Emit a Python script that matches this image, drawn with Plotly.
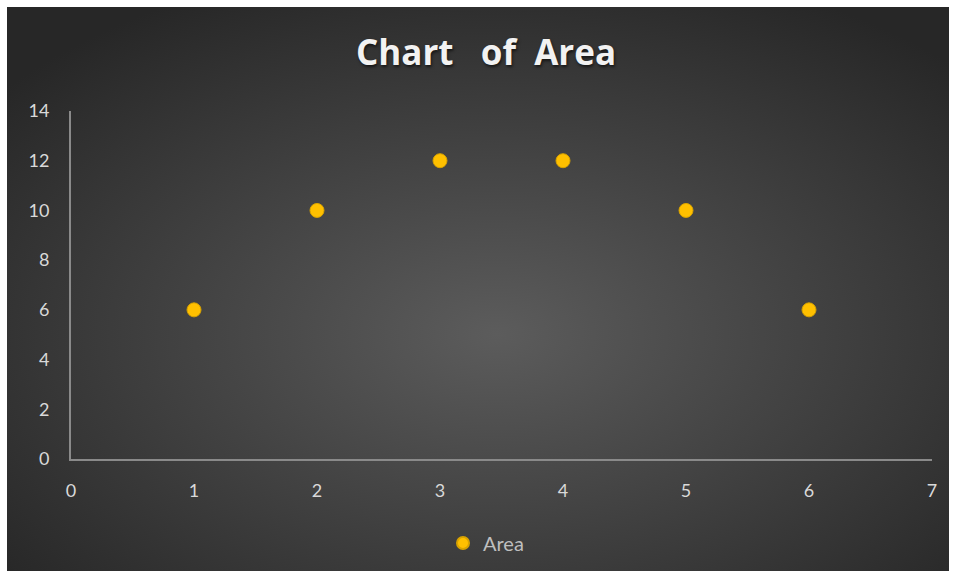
import base64
import plotly.graph_objects as go

x_vals = [1, 2, 3, 4, 5, 6]
area_vals = [6, 10, 12, 12, 10, 6]
series_name = "Area"
title_text = "Chart\u00a0\u00a0\u00a0of\u00a0\u00a0Area"

W, H = 956, 578
L, R, T, B = 71, 24, 111, 119
pw, ph = W - L - R, H - T - B

svg = (
    '<svg xmlns="http://www.w3.org/2000/svg" width="942" height="564" viewBox="0 0 942 564" preserveAspectRatio="none">'
    '<defs><radialGradient id="g" cx="0.52" cy="0.58" r="0.68" gradientUnits="objectBoundingBox">'
    '<stop offset="0" stop-color="#5c5c5c"/><stop offset="1" stop-color="#272727"/>'
    '</radialGradient></defs><rect x="0" y="0" width="942" height="564" fill="url(#g)"/></svg>'
)
src = "data:image/svg+xml;base64," + base64.b64encode(svg.encode()).decode()

x0 = (7 - L) / pw
x1 = (949 - L) / pw
y1 = (H - B - 7) / ph
y0 = (H - B - 571) / ph

fig = go.Figure()
fig.add_trace(go.Scatter(
    x=x_vals, y=area_vals, mode="markers", name=series_name,
    marker=dict(size=14, color="#FFC000", line=dict(color="#D9A300", width=1)),
))

fig.update_layout(
    width=W, height=H,
    margin=dict(l=L, r=R, t=T, b=B),
    paper_bgcolor="white",
    plot_bgcolor="rgba(0,0,0,0)",
    images=[dict(source=src, xref="paper", yref="paper", x=x0, y=y1,
                 sizex=x1 - x0, sizey=y1 - y0, sizing="stretch",
                 xanchor="left", yanchor="top", layer="below")],
    title=dict(text=title_text, x=(486 - L) / pw, xref="paper", xanchor="center",
               y=1 - 53 / H, yanchor="middle",
               font=dict(family="Open Sans", size=35, color="#f2f2f2", weight="bold",
                         shadow="1px 2px 3px rgba(0,0,0,0.6)")),
    xaxis=dict(range=[0, 7], dtick=1, showgrid=False, zeroline=False,
               showline=True, linecolor="#8a8a8a", linewidth=2,
               tickfont=dict(family="Lato", size=18, color="#d9d9d9"),
               ticks="", ticklabelstandoff=14),
    yaxis=dict(range=[0, 14], dtick=2, showgrid=False, zeroline=False,
               showline=True, linecolor="#8a8a8a", linewidth=2,
               tickfont=dict(family="Lato", size=18, color="#d9d9d9"),
               ticks="", ticklabelstandoff=16),
    showlegend=True,
    legend=dict(orientation="h", x=(486 - L) / pw, xanchor="center",
                y=(H - B - 543) / ph, yanchor="middle",
                font=dict(family="Lato", size=20, color="#bfbfbf"),
                bgcolor="rgba(0,0,0,0)", itemsizing="constant", itemwidth=30),
)

fig.write_html("out.html")
